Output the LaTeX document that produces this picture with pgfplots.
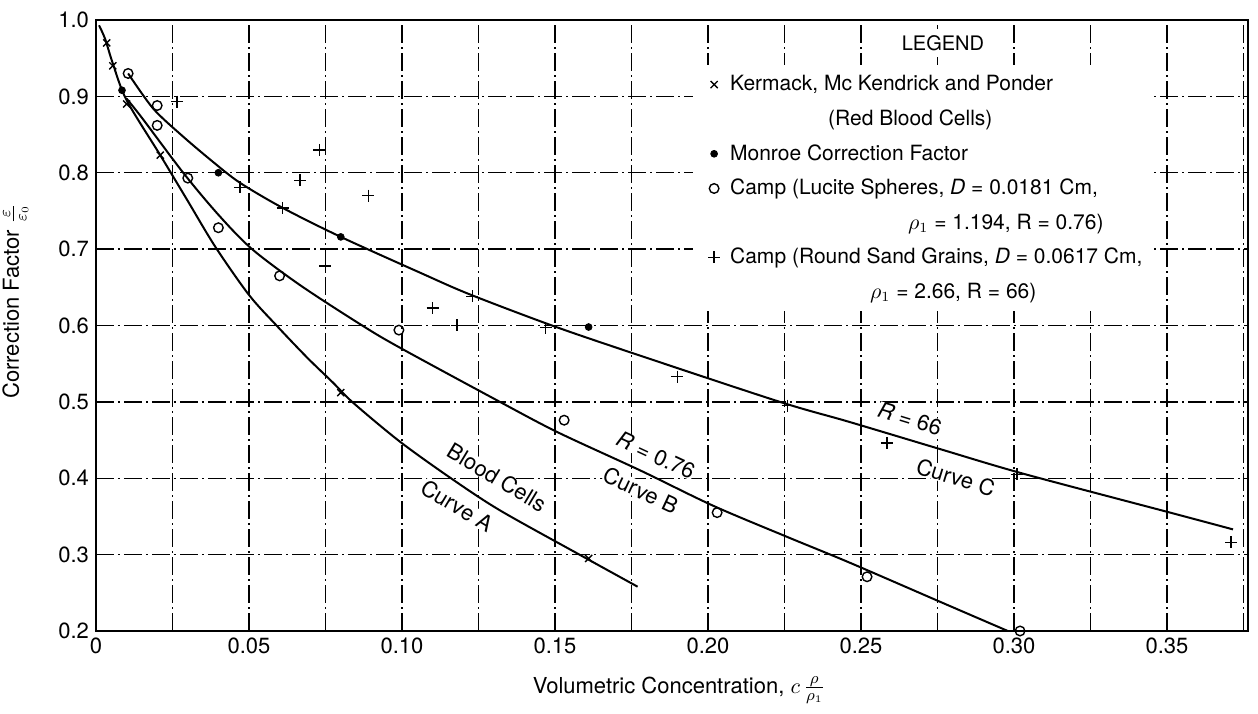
\documentclass[border=0pt]{standalone}
\usepackage{fontspec}
\setmainfont{TeX Gyre Heros}
\usepackage{pgfplots}
\pgfplotsset{compat=1.18}
\usetikzlibrary{calc}

\tikzset{gridline/.style={black, line width=0.7pt, dash pattern=on 9pt off 2pt on 1pt off 2pt}}

\begin{document}
\begin{tikzpicture}
\begin{axis}[
    scale only axis,
    width=576pt, height=305.5pt,
    xmin=0, xmax=0.3765, ymin=0.2, ymax=1.0,
    xtick={0,0.05,0.10,0.15,0.20,0.25,0.30,0.35},
    xticklabels={0,0.05,0.10,0.15,0.20,0.25,0.30,0.35},
    minor xtick={0.025,0.075,0.125,0.175,0.225,0.275,0.325,0.375},
    ytick={0.2,0.3,0.4,0.5,0.6,0.7,0.8,0.9,1.0},
    yticklabels={0.2,0.3,0.4,0.5,0.6,0.7,0.8,0.9,1.0},
    grid=both,
    major grid style={gridline},
    minor grid style={gridline},
    major tick length=0pt, minor tick length=0pt,
    axis line style={line width=1.2pt},
    tick label style={font=\fontsize{11}{13}\selectfont},
    xlabel={Volumetric Concentration, $c\,\frac{\rho}{\rho_1}$},
    ylabel={Correction Factor $\frac{\varepsilon}{\varepsilon_0}$},
    label style={font=\fontsize{11}{13}\selectfont},
    xlabel style={at={(axis description cs:0.506,-0.097)}, anchor=center},
    ylabel style={at={(axis description cs:-0.07,0.54)}, anchor=center},
    legend cell align=left,
    legend style={at={(axis cs:0.195,0.941)}, anchor=north west, fill=white, draw=none,
        font=\fontsize{10.5}{12}\selectfont, row sep=4pt, inner xsep=2pt, inner ysep=3pt,
        /tikz/every odd column/.append style={column sep=3pt}},
]
% Curve A (blood cells)
\addplot[smooth, line width=1pt, forget plot] coordinates {
  (0.001,0.993) (0.003,0.975) (0.0055,0.943) (0.010,0.895) (0.021,0.823) (0.030,0.763)
  (0.039,0.703) (0.050,0.640) (0.059,0.600) (0.069,0.558) (0.0775,0.525) (0.084,0.499)
  (0.0993,0.448) (0.116,0.400) (0.132,0.358) (0.158,0.300) (0.177,0.258)};
% Curve B (R = 0.76)
\addplot[smooth, line width=1pt, forget plot] coordinates {
  (0.010,0.897) (0.015,0.872) (0.0285,0.800) (0.040,0.745) (0.051,0.700) (0.067,0.652)
  (0.087,0.600) (0.0993,0.571) (0.132,0.500) (0.151,0.460) (0.178,0.410) (0.2017,0.364)
  (0.226,0.323) (0.246,0.290) (0.276,0.238) (0.298,0.200)};
% Curve C (R = 66)
\addplot[smooth, line width=1pt, forget plot] coordinates {
  (0.0105,0.930) (0.0187,0.884) (0.028,0.849) (0.038,0.815) (0.047,0.787) (0.061,0.754)
  (0.080,0.716) (0.106,0.669) (0.122,0.641) (0.149,0.600) (0.176,0.563) (0.2235,0.500)
  (0.246,0.474) (0.276,0.438) (0.303,0.406) (0.352,0.354) (0.3716,0.333)};

\addplot[only marks, mark=x, mark size=2.5pt, line width=0.7pt] coordinates {
  (0.0035,0.97) (0.0055,0.94) (0.010,0.89) (0.021,0.823) (0.080,0.512) (0.161,0.295)};
\addlegendentry{Kermack, Mc Kendrick and Ponder}
\addlegendimage{empty legend}
\addlegendentry{\hspace*{49pt}(Red Blood Cells)}
\addplot[only marks, mark=*, mark size=1.7pt, fill=black] coordinates {
  (0.0085,0.908) (0.040,0.80) (0.080,0.716) (0.161,0.598)};
\addlegendentry{Monroe Correction Factor}
\addplot[only marks, mark=o, mark size=2.4pt, line width=0.7pt, mark options={fill=white}] coordinates {
  (0.0105,0.93) (0.020,0.888) (0.020,0.862) (0.030,0.793) (0.0400,0.728) (0.060,0.665)
  (0.099,0.594) (0.153,0.476) (0.203,0.355) (0.252,0.271) (0.302,0.200)};
\addlegendentry{Camp (Lucite Spheres, \textit{D} = 0.0181 Cm,}
\addlegendimage{empty legend}
\addlegendentry{\hspace*{89pt}$\rho_1$ = 1.194, R = 0.76)}
\addplot[only marks, mark=+, mark size=3pt, line width=0.7pt] coordinates {
  (0.0265,0.893) (0.047,0.781) (0.061,0.754) (0.0667,0.79) (0.073,0.83) (0.089,0.77)
  (0.075,0.678) (0.110,0.623) (0.118,0.60) (0.123,0.638) (0.147,0.597) (0.190,0.533)
  (0.226,0.495) (0.2585,0.446) (0.301,0.405) (0.371,0.316)};
\addlegendentry{Camp (Round Sand Grains, \textit{D} = 0.0617 Cm,}
\addlegendimage{empty legend}
\addlegendentry{\hspace*{70pt}$\rho_1$ = 2.66, R = 66)}

\node[fill=white, inner sep=3pt, font=\fontsize{10}{12}\selectfont] at (axis cs:0.2768,0.97) {LEGEND};

\begin{scope}[every node/.style={fill=white, inner sep=0pt, font=\fontsize{11}{13}\selectfont}]
\node[rotate=-25] at (axis cs:0.183,0.430) {\textit{R} = 0.76};
\node[rotate=-25] at (axis cs:0.178,0.384) {Curve B};
\node[rotate=-31] at (axis cs:0.131,0.401) {Blood Cells};
\node[rotate=-31] at (axis cs:0.118,0.364) {Curve A};
\node[rotate=-17] at (axis cs:0.266,0.478) {\textit{R} = 66};
\node[rotate=-17] at (axis cs:0.281,0.401) {Curve C};
\end{scope}
\end{axis}
\pgfresetboundingbox
\path ($(current axis.south west)+(-48pt,-41.5pt)$) rectangle ($(current axis.north east)+(5pt,10pt)$);
\end{tikzpicture}
\end{document}
